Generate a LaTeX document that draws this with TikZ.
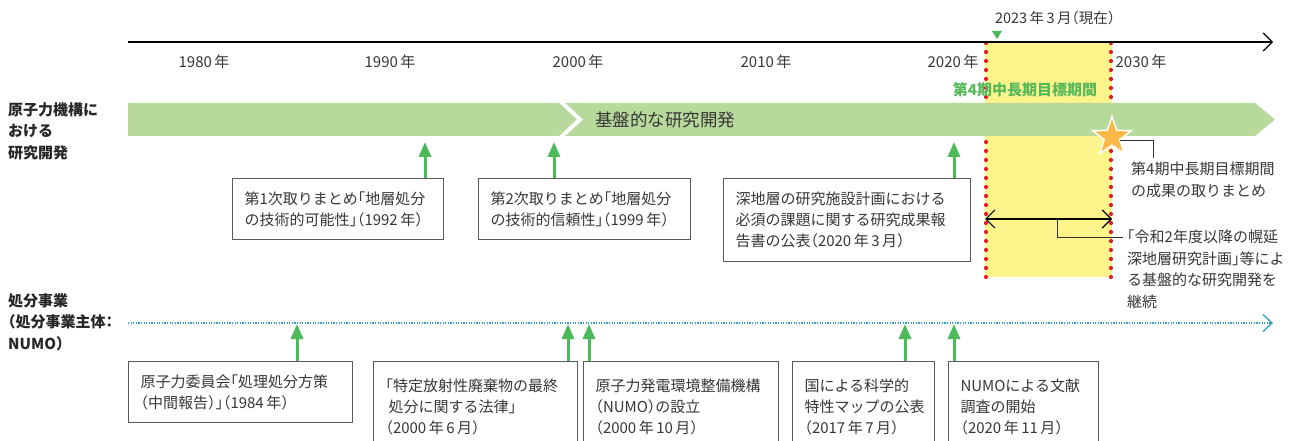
\documentclass[tikz,border=0pt]{standalone}
\usepackage{fontspec}
\setmainfont{Noto Sans CJK JP}[RawFeature=+halt]
\usetikzlibrary{arrows.meta,shapes.geometric,calc}
\definecolor{txt}{RGB}{55,55,55}
\definecolor{bandc}{RGB}{183,217,155}
\definecolor{garr}{RGB}{76,185,90}
\definecolor{yel}{RGB}{255,243,140}
\definecolor{reddot}{RGB}{230,30,40}
\definecolor{tealc}{RGB}{50,160,195}
\definecolor{starc}{RGB}{250,185,70}
\definecolor{boxline}{RGB}{90,90,90}
\definecolor{gtxt}{RGB}{85,185,90}
\tikzset{barbtip/.tip={Straight Barb[length=9pt,width=18pt]}}
\begin{document}
\begin{tikzpicture}[x=1pt,y=-1pt,
  font=\fontsize{15}{21}\selectfont, text=txt,
  box/.style={draw=boxline, line width=1pt, fill=white, anchor=north west,
    align=left, inner xsep=12pt, inner ysep=0pt},
  garrow/.style={draw=garr, line width=3pt, -{Triangle[width=12pt,length=15pt]}},
  yearlbl/.style={font=\fontsize{15}{16}\selectfont, inner sep=0pt},
  sidelbl/.style={font=\fontsize{15}{21.5}\selectfont\bfseries, align=left, anchor=north west, inner sep=0pt, text=black!85},
  reddots/.style={draw=reddot, line width=4.2pt, line cap=round, dash pattern=on 0pt off 9pt},
  note/.style={align=left, anchor=north west, inner sep=0pt, font=\fontsize{15}{21.5}\selectfont}]
\clip (0,0) rectangle (1302,441);
\fill[white] (0,0) rectangle (1302,441);

% period highlight
\fill[yel] (985,42) rectangle (1112,277);
\draw[reddots] (986,43) -- (986,277);
\draw[reddots] (1111,43) -- (1111,277);

% time axis
\coordinate (axL) at (128,42);
\coordinate (axR) at (1273,42);
\draw[line width=1.2pt, -{barbtip}] (axL) -- (axR);
\node[yearlbl] (y1980) at (204,62) {1980\,年};
\node[yearlbl] (y1990) at (390,62) {1990\,年};
\node[yearlbl] (y2000) at (578,62) {2000\,年};
\node[yearlbl] (y2010) at (766,62) {2010\,年};
\node[yearlbl] (y2020) at (953,62) {2020\,年};
\node[yearlbl] (y2030) at (1141,62) {2030\,年};
\node[font=\fontsize{14.5}{16}\selectfont, inner sep=0pt] (now) at (1055,18) {2023\,年\,3\,月（現在）};
\fill[garr] (992,31) -- (1002,31) -- (997,39) -- cycle;

% green band
\fill[bandc] (128,103) -- (1255,103) -- (1275,119.5) -- (1255,136) -- (128,136) -- cycle;
\draw[white, line width=4pt] (560,101) -- (580,119.5) -- (560,138);
\node[font=\fontsize{17.5}{18}\selectfont, inner sep=0pt] (kiban) at (665,120) {基盤的な研究開発};
\node[font=\fontsize{15}{16}\selectfont\bfseries, text=gtxt, inner sep=0pt] (period) at (1025,90) {第4期中長期目標期間};

% star
\node[star, star points=5, star point ratio=2.5, minimum size=41pt, inner sep=0pt,
  fill=starc, draw=white, line width=1.5pt] (star) at (1112,137) {};
\node[note] (note1) at (1131,162) {第4期中長期目標期間\\の成果の取りまとめ};
\coordinate (s1) at (1153,158);
\draw[line width=1pt, black!80] ($(star.center)+(8,4)$) -| (s1);

% double arrow and note
\coordinate (dL) at (985,219);
\coordinate (dR) at (1112,219);
\draw[line width=1.2pt, {barbtip}-{barbtip}] (dL) -- (dR);
\node[note] (note2) at (1127,230) {「令和2年度以降の幌延\\深地層研究計画」等によ\\る基盤的な研究開発を\\継続};
\coordinate (dm) at (1057,219);
\coordinate (n2) at (1123,237);
\draw[line width=1pt, black!80] (dm) |- (n2);

% side labels
\node[sidelbl] (lab1) at (8,102) {原子力機構に\\おける\\研究開発};
\node[sidelbl] (lab2) at (8,293) {処分事業\\（処分事業主体：\\NUMO）};

% disposal line
\coordinate (tL) at (128,323);
\coordinate (tR) at (1273,323);
\draw[tealc, line width=1.3pt, dash pattern=on 1.2pt off 1.4pt] (tL) -- ($(tR)+(-1,0)$);
\draw[tealc, line width=1.3pt, -{Straight Barb[length=9pt,width=17pt]}] ($(tR)+(-2,0)$) -- (tR);

% upper boxes
\node[box, text width=187pt, minimum height=61pt] (b1) at (232,178)
  {第1次取りまとめ「地層処分\\の技術的可能性」（1992\,年）};
\node[box, text width=188pt, minimum height=61pt] (b2) at (478,178)
  {第2次取りまとめ「地層処分\\の技術的信頼性」（1999\,年）};
\node[box, text width=223pt, minimum height=83pt] (b3) at (723,178)
  {深地層の研究施設計画における\\必須の課題に関する研究成果報\\告書の公表（2020\,年\,3\,月）};
\coordinate (t1) at (425,142);
\coordinate (t2) at (554,142);
\coordinate (t3) at (954,142);
\draw[garrow] (t1 |- b1.north) -- (t1);
\draw[garrow] (t2 |- b2.north) -- (t2);
\draw[garrow] (t3 |- b3.north) -- (t3);

% lower boxes
\node[box, text width=200pt, minimum height=61pt] (c1) at (128,361)
  {原子力委員会「処理処分方策\\（中間報告）」（1984\,年）};
\node[box, text width=180pt, minimum height=90pt] (c2) at (373,361)
  {「特定放射性廃棄物の最終\\\hspace*{3pt}処分に関する法律」\\（2000\,年\,6\,月）};
\node[box, text width=171pt, minimum height=90pt] (c3) at (583,361)
  {原子力発電環境整備機構\\（NUMO）の設立\\（2000\,年\,10\,月）};
\node[box, text width=118pt, minimum height=90pt] (c4) at (792,361)
  {国による科学的\\特性マップの公表\\（2017\,年\,7\,月）};
\node[box, text width=126pt, minimum height=90pt] (c5) at (948,361)
  {NUMOによる文献\\調査の開始\\（2020\,年\,11\,月）};
\coordinate (u1) at (297,324);
\coordinate (u2) at (568,324);
\coordinate (u3) at (589,324);
\coordinate (u4) at (905,324);
\coordinate (u5) at (954,324);
\draw[garrow] (u1 |- c1.north) -- (u1);
\draw[garrow] (u2 |- c2.north) -- (u2);
\draw[garrow] (u3 |- c3.north) -- (u3);
\draw[garrow] (u4 |- c4.north) -- (u4);
\draw[garrow] (u5 |- c5.north) -- (u5);
\end{tikzpicture}
\end{document}
